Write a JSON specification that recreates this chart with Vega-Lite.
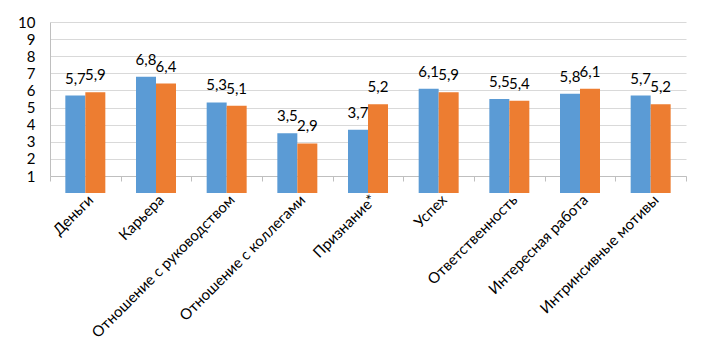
{
  "$schema": "https://vega.github.io/schema/vega-lite/v6.json",
  "width": 636,
  "height": 154,
  "autosize": {"type": "none"},
  "padding": {"left": 50, "top": 22, "right": 22, "bottom": 179},
  "background": "white",
  "config": {
    "locale": {"number": {"decimal": ",", "thousands": " ", "grouping": [3], "currency": ["", ""]}},
    "view": {"stroke": null},
    "font": "Lato",
    "axis": {"labelFont": "Lato", "labelColor": "#000000", "labelFontSize": 15}
  },
  "data": {
    "values": [
      {"cat": "Деньги", "series": "A", "v": 5.7},
      {"cat": "Деньги", "series": "B", "v": 5.9},
      {"cat": "Карьера", "series": "A", "v": 6.8},
      {"cat": "Карьера", "series": "B", "v": 6.4},
      {"cat": "Отношение с руководством", "series": "A", "v": 5.3},
      {"cat": "Отношение с руководством", "series": "B", "v": 5.1},
      {"cat": "Отношение с коллегами", "series": "A", "v": 3.5},
      {"cat": "Отношение с коллегами", "series": "B", "v": 2.9},
      {"cat": "Признание*", "series": "A", "v": 3.7},
      {"cat": "Признание*", "series": "B", "v": 5.2},
      {"cat": "Успех", "series": "A", "v": 6.1},
      {"cat": "Успех", "series": "B", "v": 5.9},
      {"cat": "Ответственность", "series": "A", "v": 5.5},
      {"cat": "Ответственность", "series": "B", "v": 5.4},
      {"cat": "Интересная работа", "series": "A", "v": 5.8},
      {"cat": "Интересная работа", "series": "B", "v": 6.1},
      {"cat": "Интринсивные мотивы", "series": "A", "v": 5.7},
      {"cat": "Интринсивные мотивы", "series": "B", "v": 5.2}
    ]
  },
  "encoding": {
    "x": {
      "field": "cat",
      "type": "nominal",
      "sort": null,
      "title": null,
      "scale": {"paddingInner": 0, "paddingOuter": 0},
      "axis": {
        "labelAngle": -45,
        "labelAlign": "right",
        "labelBaseline": "middle",
        "labelPadding": 16,
        "labelOffset": 5,
        "tickBand": "extent",
        "tickSize": 5,
        "tickColor": "#bfbfbf",
        "domainColor": "#bfbfbf",
        "grid": false,
        "labelLimit": 300
      }
    },
    "xOffset": {"field": "series", "type": "nominal", "scale": {"paddingInner": 0, "paddingOuter": 0.767}},
    "y": {
      "field": "v",
      "type": "quantitative",
      "title": null,
      "scale": {"domain": [1, 10], "nice": false, "zero": false},
      "axis": {
        "values": [1, 2, 3, 4, 5, 6, 7, 8, 9, 10],
        "ticks": false,
        "labelPadding": 15,
        "gridColor": "#d9d9d9",
        "domainColor": "#bfbfbf",
        "format": "d"
      }
    }
  },
  "layer": [
    {
      "mark": {"type": "bar"},
      "encoding": {
        "color": {"field": "series", "type": "nominal", "legend": null, "scale": {"domain": ["A", "B"], "range": ["#5B9BD5", "#ED7D31"]}}
      }
    },
    {
      "mark": {"type": "text", "baseline": "alphabetic", "dy": -12, "fontSize": 15, "color": "#000000", "font": "Lato"},
      "encoding": {
        "text": {"field": "v", "type": "quantitative", "format": ".1f"}
      }
    }
  ]
}
